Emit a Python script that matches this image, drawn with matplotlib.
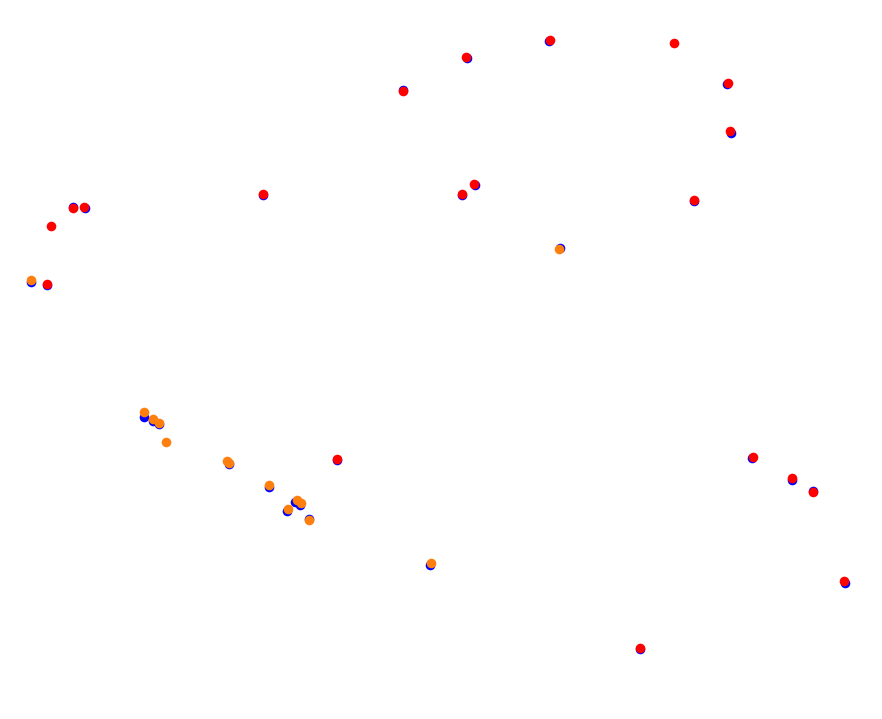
import numpy as np
import matplotlib
matplotlib.use('Agg')
import matplotlib.pyplot as plt

# reference positions (blue)
blue_x = [73.3, 85, 46.7, 263, 337, 402.7, 467, 549, 727, 731, 475.3, 462, 694, 640,
          751.7, 792, 813, 845,
          31, 143.7, 152.7, 158.7, 228.7, 268.7, 295, 299.7, 286.7, 309, 430, 560.3]
blue_y = [207.3, 208, 285, 195, 459.5, 89.5, 58, 41, 84, 133, 185, 195, 201, 648.5,
          458, 479.7, 491.3, 582.5,
          282, 417.3, 421, 424, 464, 486.7, 502, 505, 511, 519.3, 565, 248]

# red group
red_x = [72.7, 84, 46.7, 263, 337, 402.7, 466, 550, 727.7, 729.7, 474, 462, 694, 640,
         752.7, 792, 813, 843.7, 673.7, 50.7]
red_y = [208.3, 207, 284.3, 194, 459, 90.7, 56.7, 40, 82.7, 131, 183.7, 193.7, 200, 648,
         456.7, 478, 492.3, 581, 43, 225.7]

# orange group
orange_x = [31, 143.7, 153.3, 159.3, 226.7, 229, 268.7, 296.7, 300.7, 288, 309, 431, 559, 165.7]
orange_y = [280, 412.3, 419.3, 422.7, 460.7, 463, 484.7, 500, 503, 508.7, 520.3, 563, 249, 441.7]

fig = plt.figure(figsize=(8.82, 7.19), dpi=100)
ax = fig.add_axes([0, 0, 1, 1])

ax.scatter(blue_x, blue_y, s=48, c='#0000ff', linewidths=0)
ax.scatter(red_x, red_y, s=48, c='#ff0000', linewidths=0)
ax.scatter(orange_x, orange_y, s=48, c='#ff7f0e', linewidths=0)

ax.set_xlim(0, 882)
ax.set_ylim(719, 0)
ax.axis('off')

fig.savefig('out.png', dpi=100)
